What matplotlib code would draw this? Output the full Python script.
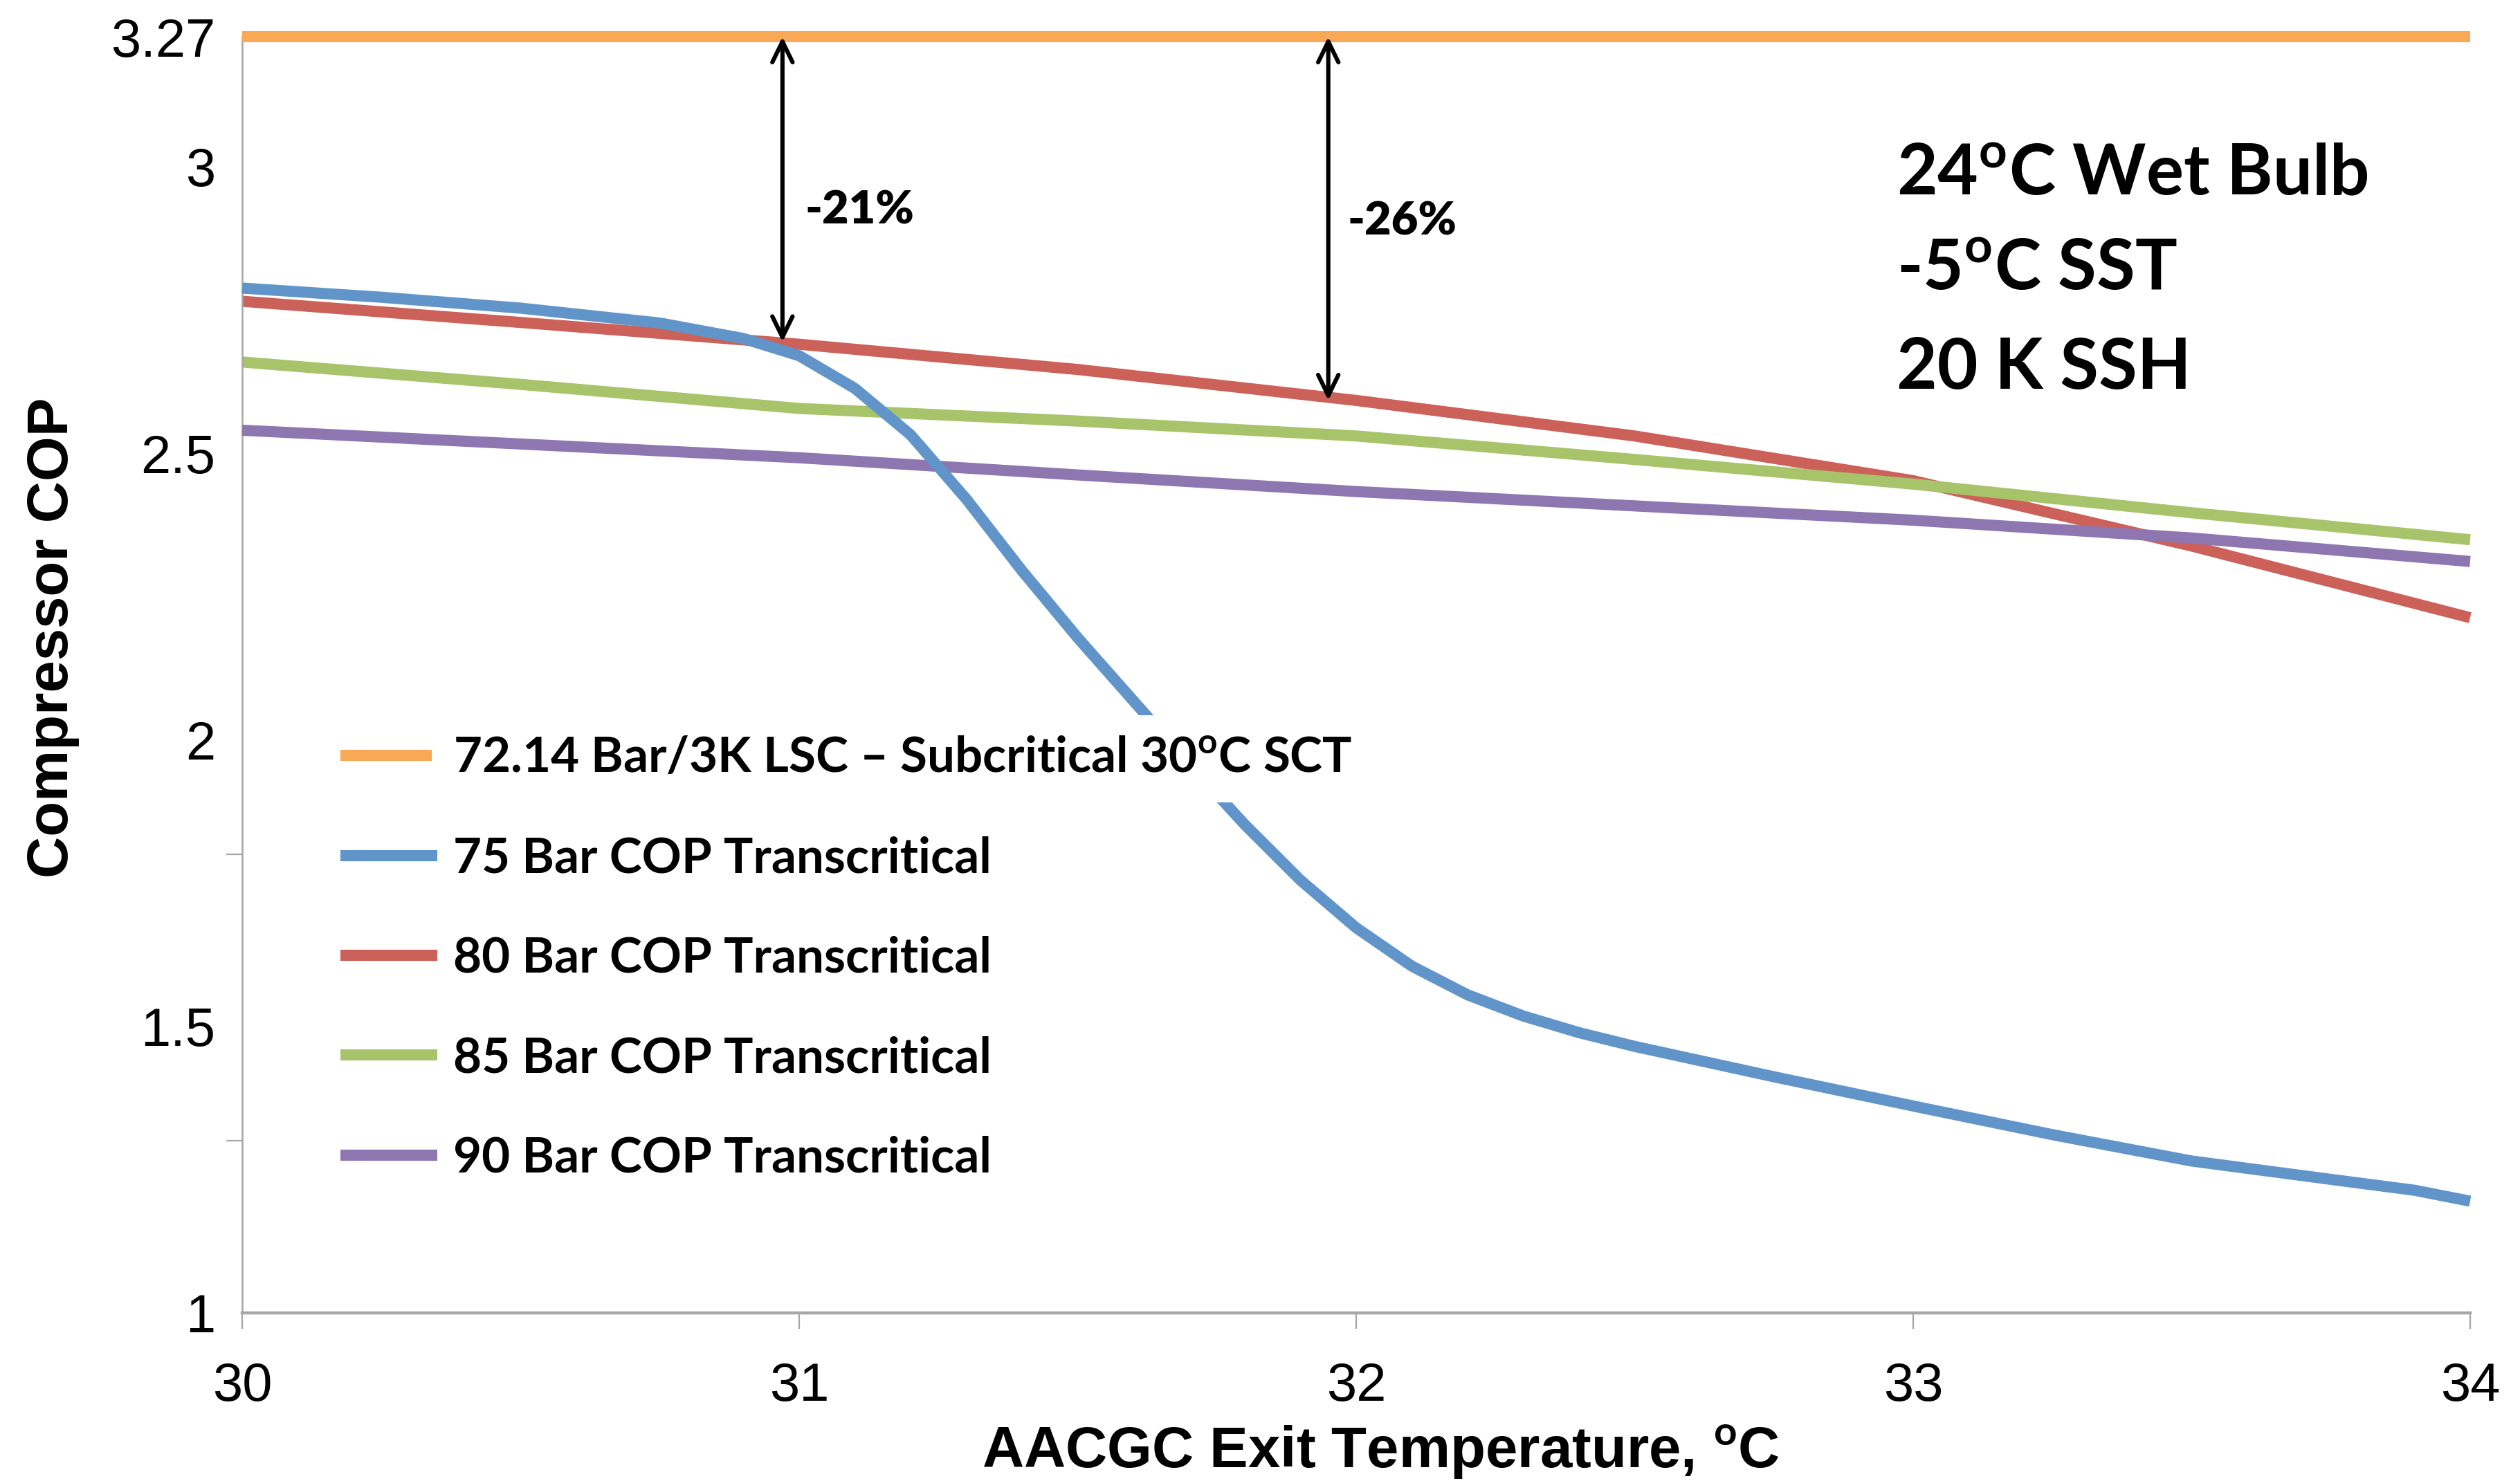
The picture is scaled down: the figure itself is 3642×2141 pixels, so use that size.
import numpy as np
import matplotlib
matplotlib.use('Agg')
import matplotlib.pyplot as plt

# AACGC exit temperature, C
temp_75 = [30.0, 30.25, 30.5, 30.75, 30.9, 31.0, 31.1, 31.2, 31.3, 31.4, 31.5, 31.6,
           31.7, 31.8, 31.9, 32.0, 32.1, 32.2, 32.3, 32.4, 32.5, 32.75, 33.0, 33.25,
           33.5, 33.75, 33.9, 34.0]
cop_75 = [2.788, 2.772, 2.753, 2.727, 2.700, 2.670, 2.613, 2.532, 2.420, 2.295, 2.178, 2.068,
          1.958, 1.852, 1.755, 1.672, 1.605, 1.555, 1.518, 1.489, 1.465, 1.412, 1.361, 1.311,
          1.265, 1.233, 1.214, 1.195]

temp = [30.0, 30.5, 31.0, 31.5, 32.0, 32.5, 33.0, 33.5, 34.0]
cop_80 = [2.765, 2.728, 2.690, 2.646, 2.592, 2.530, 2.452, 2.338, 2.213]
cop_85 = [2.659, 2.620, 2.578, 2.556, 2.530, 2.489, 2.446, 2.396, 2.349]
cop_90 = [2.540, 2.516, 2.492, 2.462, 2.433, 2.408, 2.383, 2.352, 2.311]

temp_sub = [30.0, 34.0]
cop_sub = [3.27, 3.27]

labels = ['72.14 Bar/3K LSC \u2013 Subcritical 30$^{\\mathbf{o}}$C SCT',
          '75 Bar COP Transcritical',
          '80 Bar COP Transcritical',
          '85 Bar COP Transcritical',
          '90 Bar COP Transcritical']
colors = ['#F9A856', '#6195C9', '#CB6158', '#A8C46A', '#8E76B0']

# drop markers (orange line -> 80 bar line)
arrow_x = [30.97, 31.95]
arrow_low = [2.694, 2.592]
drop_text = ['-21%', '-26%']
drop_text_x = [31.01, 31.985]
drop_text_y = [2.924, 2.904]

cond_lines = ['24$^{\\mathbf{o}}$C Wet Bulb', '-5$^{\\mathbf{o}}$C SST', '20 K SSH']
cond_x = 32.97
cond_y = [2.951, 2.785, 2.612]

xticks = [30, 31, 32, 33, 34]
ylabel_vals = [1, 1.5, 2, 2.5, 3, 3.27]
ytick_marks = [1, 1.3, 1.8, 2.5, 3, 3.27]

plt.rcParams['mathtext.fontset'] = 'custom'
plt.rcParams['mathtext.bf'] = 'Lato:bold'
plt.rcParams['mathtext.rm'] = 'Lato'

# top of the axis is squeezed a bit above 3 (as in the original sheet)
K = 0.839
def fwd(y):
    y = np.asarray(y, dtype=float)
    return np.where(y <= 3, y, 3 + (y - 3) * K)
def inv(y):
    y = np.asarray(y, dtype=float)
    return np.where(y <= 3, y, 3 + (y - 3) / K)

fig = plt.figure(figsize=(18.21, 10.705), dpi=200)
ax = fig.add_axes([0.0961, 0.1135, 0.8841, 0.8617])
ax.set_yscale('function', functions=(fwd, inv))

lw = 5.8
series = [(temp_sub, cop_sub, 3), (temp_75, cop_75, 4), (temp, cop_80, 2),
          (temp, cop_85, 2.5), (temp, cop_90, 3)]
handles = []
for (xs, ys, z), lab, c in zip(series, labels, colors):
    h, = ax.plot(xs, ys, color=c, lw=lw, label=lab, zorder=z,
                 solid_capstyle='butt', solid_joinstyle='round', clip_on=False)
    handles.append(h)

ax.set_xlim(30, 34)
ax.set_ylim(1, 3.27)

for xa, yl in zip(arrow_x, arrow_low):
    ax.annotate('', xy=(xa, yl), xytext=(xa, 3.27),
                arrowprops=dict(arrowstyle='<->,head_length=0.45,head_width=0.22',
                                lw=2.2, color='black', mutation_scale=24,
                                shrinkA=0, shrinkB=0), zorder=6)
for s, tx, ty in zip(drop_text, drop_text_x, drop_text_y):
    ax.text(tx, ty, s, fontsize=24, fontweight='heavy', family='Lato',
            ha='left', va='center')

for s, cy in zip(cond_lines, cond_y):
    ax.text(cond_x, cy, s, fontsize=36.5, fontweight='bold', family='Lato',
            ha='left', va='baseline')

# axes styling
for side in ['top', 'right']:
    ax.spines[side].set_visible(False)
ax.spines['left'].set_color('#a6a6a6')
ax.spines['left'].set_linewidth(0.9)
ax.spines['bottom'].set_color('#a6a6a6')
ax.spines['bottom'].set_linewidth(1.6)

ax.set_xticks(xticks)
ax.set_xticklabels([str(t) for t in xticks])
ax.set_yticks(ylabel_vals)
ax.set_yticklabels(['1', '1.5', '2', '2.5', '3', '3.27'])
ax.set_yticks(ytick_marks, minor=True)
ax.tick_params(axis='x', length=8.3, width=0.8, color='#a6a6a6', pad=17,
               labelsize=28)
ax.tick_params(axis='y', which='major', length=0, pad=14, labelsize=28)
ax.tick_params(axis='y', which='minor', length=8.3, width=0.8, color='#a6a6a6',
               labelleft=False)
for lab in ax.get_xticklabels() + ax.get_yticklabels():
    lab.set_family('Liberation Sans')

ax.set_xlabel('AACGC Exit Temperature, $^{\\mathbf{o}}$C', fontsize=30,
              fontweight='bold', family='Liberation Sans', va='baseline')
ax.set_ylabel('Compressor COP', fontsize=30, fontweight='bold',
              family='Liberation Sans')
ax.xaxis.set_label_coords(0.511, -0.1215)
ax.yaxis.set_label_coords(-0.073, 0.529)

leg = ax.legend(handles=handles, loc='upper left', bbox_to_anchor=(0.0441, 0.452),
                frameon=False, prop={'family': 'Lato', 'weight': 'bold', 'size': 25.5},
                handlelength=1.98, handletextpad=0.32, labelspacing=1.12,
                borderpad=0, borderaxespad=0)
leg.set_zorder(7)
leg.get_texts()[0].set_bbox(dict(facecolor='white', edgecolor='none', pad=11))

fig.savefig('out.png', dpi=200)
